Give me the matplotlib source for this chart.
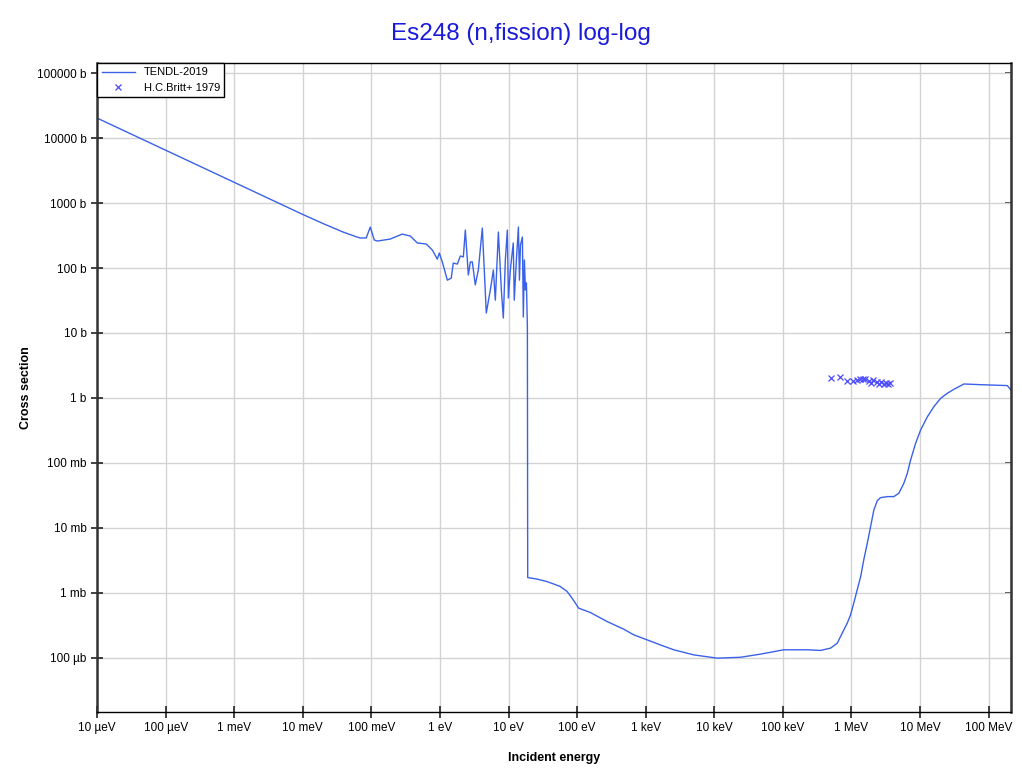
import matplotlib.pyplot as plt
from matplotlib.ticker import FixedLocator, NullLocator

plt.rcParams['font.family'] = ['Liberation Sans', 'DejaVu Sans']

# TENDL-2019 evaluated curve (energy in eV, cross section in b)
energy = [1e-5, 0.0102, 0.02, 0.0393, 0.0615, 0.0687, 0.084, 0.0962, 0.110, 0.122,
          0.188, 0.282, 0.369, 0.467, 0.631, 0.773, 0.914, 0.977, 1.08, 1.28, 1.46,
          1.56, 1.79, 1.98, 2.19, 2.34, 2.59, 2.77, 2.96, 3.27, 3.62, 4.14, 4.73,
          5.42, 6.0, 6.41, 7.1, 7.84, 8.38, 8.97, 9.6, 9.93, 10.6, 11.7, 12.1, 13.0,
          13.9, 14.4, 14.9, 15.9, 16.4, 17.0, 17.6, 18.2, 18.8,
          19.0, 26.0, 36.4, 45.4, 56.9, 71.3, 84.3, 94.2, 105, 156, 273, 478, 668,
          1047, 1637, 2559, 5012, 1.10e4, 2.40e4, 4.71e4, 1.03e5, 2.26e5, 3.54e5,
          4.95e5, 6.20e5, 6.93e5, 7.74e5, 8.67e5, 9.69e5, 1.08e6, 1.21e6, 1.36e6,
          1.51e6, 1.70e6, 1.90e6, 2.12e6, 2.38e6, 2.65e6, 3.33e6, 4.15e6, 4.91e6,
          5.81e6, 6.52e6, 7.28e6, 8.61e6, 1.02e7, 1.28e7, 1.59e7, 2.0e7, 2.5e7,
          3.12e7, 4.36e7, 7.64e7, 1.87e8, 2.1e8]
xs = [2.03e4, 660, 480, 355, 300, 290, 290, 427, 270, 260,
      279, 333, 310, 243, 234, 189, 137, 170, 124, 65, 70,
      119, 115, 153, 148, 384, 78, 124, 124, 55, 93, 412, 20.3,
      46, 93, 32, 358, 46, 17, 133, 384, 34.5, 93, 243, 32, 133,
      427, 65, 226, 300, 17.6, 133, 46, 59, 12.4,
      1.72e-3, 1.63e-3, 1.49e-3, 1.37e-3, 1.25e-3, 1.05e-3, 8.28e-4, 6.95e-4, 5.82e-4,
      4.98e-4, 3.62e-4, 2.76e-4, 2.26e-4,
      1.89e-4, 1.58e-4, 1.33e-4, 1.11e-4, 9.89e-5, 1.02e-4, 1.14e-4, 1.33e-4, 1.33e-4, 1.30e-4,
      1.41e-4, 1.68e-4, 2.13e-4, 2.70e-4, 3.42e-4, 4.59e-4, 6.95e-4, 1.11e-3, 1.78e-3,
      3.22e-3, 5.82e-3, 1.05e-2, 1.89e-2, 2.63e-2, 2.92e-2, 3.03e-2, 3.03e-2, 3.42e-2,
      4.88e-2, 6.95e-2, 0.111, 0.201, 0.322, 0.515, 0.734, 0.989, 1.18,
      1.36, 1.64, 1.60, 1.55, 1.33]

# H.C.Britt+ 1979 measurements
exp_energy = [5.1e5, 6.7e5, 8.5e5, 1.04e6, 1.19e6, 1.31e6, 1.45e6, 1.6e6, 1.77e6,
              1.9e6, 2.09e6, 2.32e6, 2.48e6, 2.66e6, 2.94e6, 3.14e6, 3.36e6, 3.59e6]
exp_xs = [2.03, 2.1, 1.83, 1.83, 1.89, 1.96, 1.96, 1.96, 1.83,
          1.70, 1.89, 1.76, 1.64, 1.76, 1.64, 1.70, 1.64, 1.70]

x_ticks = [1e-5, 1e-4, 1e-3, 1e-2, 1e-1, 1, 10, 100, 1e3, 1e4, 1e5, 1e6, 1e7, 1e8]
x_labels = ['10 µeV', '100 µeV', '1 meV', '10 meV', '100 meV', '1 eV', '10 eV',
            '100 eV', '1 keV', '10 keV', '100 keV', '1 MeV', '10 MeV', '100 MeV']
y_ticks = [1e5, 1e4, 1e3, 100, 10, 1, 0.1, 0.01, 1e-3, 1e-4]
y_labels = ['100000 b', '10000 b', '1000 b', '100 b', '10 b', '1 b', '100 mb',
            '10 mb', '1 mb', '100 µb']

fig = plt.figure(figsize=(10.22, 7.73), dpi=100)
ax = fig.add_axes([0.095, 0.079, 0.894, 0.8395])

ax.plot(energy, xs, color='#3a62e8', lw=1, label='TENDL-2019')
ax.plot(exp_energy, exp_xs, 'x', color='#4a4aff', ms=4, mew=0.9, label='H.C.Britt+ 1979')

ax.set_xscale('log')
ax.set_yscale('log')
ax.set_xlim(1e-5, 2.1e8)
ax.set_ylim(1.47e-5, 1.43e5)

ax.xaxis.set_major_locator(FixedLocator(x_ticks))
ax.set_xticklabels(x_labels)
ax.yaxis.set_major_locator(FixedLocator(y_ticks))
ax.set_yticklabels(y_labels)
ax.xaxis.set_minor_locator(NullLocator())
ax.yaxis.set_minor_locator(NullLocator())

ax.grid(True, color='#d3d3d3', lw=1)
ax.set_axisbelow(True)
ax.tick_params(axis='both', which='major', labelsize=8.5, direction='inout',
               length=8, width=1.2, color='#222222')
# small inward ticks on the right spine
ax.secondary_yaxis('right').tick_params(direction='in', length=4, width=1.2,
                                        labelright=False, color='#222222')

for side in ['left', 'right']:
    ax.spines[side].set_linewidth(1.8)
    ax.spines[side].set_color('#333333')
for side in ['top', 'bottom']:
    ax.spines[side].set_linewidth(1.0)
    ax.spines[side].set_color('black')

ax.set_xlabel('Incident energy', fontsize=9, fontweight='bold', labelpad=13)
ax.set_ylabel('Cross section', fontsize=9, fontweight='bold', labelpad=4)
fig.suptitle('Es248 (n,fission) log-log', color='#1a1adb', fontsize=17.5,
             x=0.51, y=0.97)

leg = ax.legend(loc='upper left', fontsize=8, borderaxespad=0, fancybox=False,
                framealpha=1, edgecolor='black', handlelength=3.0)
leg.get_frame().set_linewidth(1.0)

fig.savefig('out.png', dpi=100)
